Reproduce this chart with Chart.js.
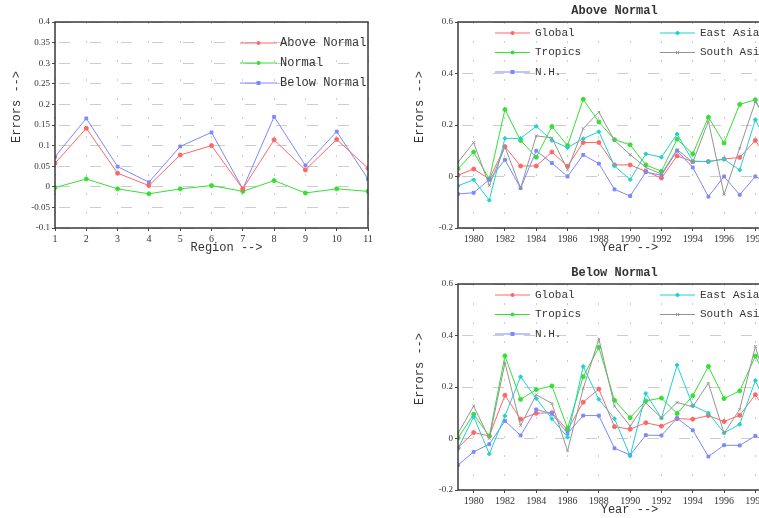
<!DOCTYPE html>
<html>
<head>
<meta charset="utf-8">
<script src="https://cdn.jsdelivr.net/npm/chart.js@4.4.0/dist/chart.umd.min.js"></script>
<style>
    html, body { margin: 0; padding: 0; background: #fff; overflow: hidden; width: 759px; height: 518px; }
    canvas { position: absolute; }
</style>
</head>
<body>
<canvas id="region-chart" width="380" height="260" style="left:0;top:0"></canvas>
<canvas id="above-chart" width="380" height="260" style="left:403px;top:0"></canvas>
<canvas id="below-chart" width="380" height="260" style="left:403px;top:262px"></canvas>
<script>
// Region chart data
const regions = [1, 2, 3, 4, 5, 6, 7, 8, 9, 10, 11];
const regionAbove = [0.057, 0.142, 0.033, 0.003, 0.077, 0.100, -0.005, 0.114, 0.041, 0.115, 0.045];
const regionNormal = [-0.002, 0.019, -0.005, -0.017, -0.005, 0.003, -0.011, 0.015, -0.015, -0.005, -0.011];
const regionBelow = [0.073, 0.166, 0.049, 0.011, 0.098, 0.132, -0.005, 0.170, 0.052, 0.134, 0.019];
const regionYTicks = [-0.1, -0.05, 0, 0.05, 0.1, 0.15, 0.2, 0.25, 0.3, 0.35, 0.4];

// Year charts data (1979 - 1999)
const years = [1979, 1980, 1981, 1982, 1983, 1984, 1985, 1986, 1987, 1988, 1989,
               1990, 1991, 1992, 1993, 1994, 1995, 1996, 1997, 1998, 1999];
const yearTicks = [1980, 1982, 1984, 1986, 1988, 1990, 1992, 1994, 1996, 1998];
const yearYTicks = [-0.2, 0, 0.2, 0.4, 0.6];

// Above Normal
const aboveGlobal = [0.005, 0.029, -0.010, 0.116, 0.041, 0.041, 0.095, 0.040, 0.132, 0.132, 0.045,
                     0.045, 0.020, -0.006, 0.080, 0.058, 0.058, 0.068, 0.074, 0.140, 0.050];
const aboveTropics = [0.030, 0.095, -0.010, 0.260, 0.140, 0.075, 0.194, 0.120, 0.300, 0.212, 0.143,
                      0.123, 0.045, 0.020, 0.145, 0.088, 0.230, 0.130, 0.280, 0.298, 0.170];
const aboveNH = [-0.068, -0.063, -0.012, 0.065, -0.045, 0.100, 0.052, 0.000, 0.084, 0.050, -0.050,
                 -0.076, 0.017, 0.005, 0.100, 0.035, -0.078, 0.000, -0.071, 0.000, -0.030];
const aboveEastAsia = [-0.036, -0.013, -0.092, 0.148, 0.148, 0.195, 0.140, 0.112, 0.147, 0.174, 0.041,
                       -0.012, 0.088, 0.075, 0.165, 0.060, 0.058, 0.067, 0.025, 0.220, 0.100];
const aboveSouthAsia = [0.055, 0.132, -0.035, 0.115, -0.045, 0.158, 0.150, 0.026, 0.186, 0.250, 0.140,
                        0.085, 0.035, 0.010, 0.105, 0.055, 0.215, -0.070, 0.110, 0.290, 0.200];

// Below Normal
const belowGlobal = [-0.035, 0.023, 0.010, 0.168, 0.075, 0.098, 0.100, 0.033, 0.141, 0.192, 0.046,
                     0.036, 0.061, 0.048, 0.077, 0.075, 0.089, 0.066, 0.090, 0.170, 0.080];
const belowTropics = [0.002, 0.094, 0.009, 0.321, 0.152, 0.190, 0.204, 0.040, 0.240, 0.354, 0.148,
                      0.081, 0.146, 0.157, 0.097, 0.166, 0.280, 0.155, 0.185, 0.320, 0.200];
const belowNH = [-0.103, -0.052, -0.022, 0.068, 0.012, 0.113, 0.096, 0.020, 0.089, 0.089, -0.038,
                 -0.064, 0.013, 0.012, 0.079, 0.032, -0.070, -0.026, -0.027, 0.010, -0.020];
const belowEastAsia = [-0.040, 0.085, -0.060, 0.088, 0.240, 0.155, 0.077, 0.005, 0.280, 0.152, 0.077,
                       -0.068, 0.175, 0.079, 0.285, 0.128, 0.099, 0.022, 0.055, 0.225, 0.090];
const belowSouthAsia = [0.020, 0.126, 0.000, 0.294, 0.050, 0.170, 0.136, -0.048, 0.194, 0.387, 0.126,
                        0.048, 0.138, 0.080, 0.140, 0.123, 0.215, 0.020, 0.113, 0.358, 0.150];

const RED = '#ff6666';
const GREEN = '#33e033';
const BLUE = '#7b88ff';
const CYAN = '#22d0d0';
const GRAY = '#949494';

const TICK_FONT = { family: 'Liberation Serif', size: 9 };
const TEXT_COLOR = '#333';

// Small marker drawing for the hand-made legend
function drawMarker(ctx, style, x, y, color) {
    ctx.fillStyle = color;
    ctx.strokeStyle = color;
    ctx.beginPath();
    if (style === 'rect') {
        ctx.rect(x - 2, y - 2, 4, 4);
        ctx.fill();
    } else if (style === 'rectRot') {
        ctx.moveTo(x, y - 2.5); ctx.lineTo(x + 2.5, y); ctx.lineTo(x, y + 2.5); ctx.lineTo(x - 2.5, y);
        ctx.closePath();
        ctx.fill();
    } else if (style === 'crossRot') {
        ctx.moveTo(x - 1.5, y - 1.5); ctx.lineTo(x + 1.5, y + 1.5);
        ctx.moveTo(x + 1.5, y - 1.5); ctx.lineTo(x - 1.5, y + 1.5);
        ctx.stroke();
    } else {
        ctx.arc(x, y, 2, 0, Math.PI * 2);
        ctx.fill();
    }
}

// Plugin: frame, title, axis titles and legend placed like the original plot
const decorPlugin = {
    id: 'decor',
    afterDraw(chart, args, opts) {
        const ctx = chart.ctx;
        const a = chart.chartArea;
        const cx = (a.left + a.right) / 2;
        const cy = (a.top + a.bottom) / 2;
        ctx.save();

        // plot frame
        ctx.setLineDash([]);
        ctx.strokeStyle = '#3a3a3a';
        ctx.lineWidth = 1.5;
        ctx.strokeRect(a.left, a.top, a.right - a.left, a.bottom - a.top);

        ctx.fillStyle = TEXT_COLOR;
        ctx.textAlign = 'center';
        ctx.textBaseline = 'middle';

        if (opts.title) {
            ctx.font = 'bold 12px "Liberation Mono"';
            ctx.fillText(opts.title, cx, 11);
        }

        // axis titles
        ctx.font = '12px "Liberation Mono"';
        ctx.fillText(opts.xTitle, cx + 15, 248);
        ctx.save();
        ctx.translate(17, cy - 18);
        ctx.rotate(-Math.PI / 2);
        ctx.fillText(opts.yTitle, 0, 0);
        ctx.restore();

        // legend
        const lay = opts.layout;
        ctx.font = lay.font;
        ctx.textAlign = 'left';
        opts.items.forEach(item => {
            const x1 = a.left + lay.cols[item.col];
            const x2 = x1 + lay.lineLen;
            const y = a.top + lay.rowStart + lay.rowStep * item.row;
            ctx.strokeStyle = item.color;
            ctx.lineWidth = 1;
            ctx.beginPath();
            ctx.moveTo(x1, y);
            ctx.lineTo(x2, y);
            ctx.stroke();
            drawMarker(ctx, item.style, (x1 + x2) / 2, y, item.color);
            ctx.fillStyle = TEXT_COLOR;
            ctx.fillText(item.label, x2 + lay.gap, y);
        });

        ctx.restore();
    }
};

// Function to build one line dataset
function makeSeries(label, xs, values, color, style) {
    return {
        label: label,
        data: values.map((v, i) => ({ x: xs[i], y: v })),
        borderColor: color,
        backgroundColor: color,
        pointBackgroundColor: color,
        pointBorderColor: color,
        pointStyle: style,
        pointRadius: style === 'crossRot' ? 1.8 : 2,
        pointBorderWidth: 1,
        borderWidth: 1,
        tension: 0
    };
}

// Function to build the shared chart options
function makeOptions(xMin, xMax, xTicks, yMin, yMax, yTicks, decor) {
    return {
        responsive: false,
        animation: false,
        layout: { padding: { top: 22, right: 12, left: 0, bottom: 0 } },
        scales: {
            x: {
                type: 'linear',
                min: xMin,
                max: xMax,
                afterBuildTicks: axis => { axis.ticks = xTicks.map(v => ({ value: v })); },
                afterFit: axis => { axis.height = 32; },
                ticks: {
                    callback: v => String(v),
                    font: { family: 'Liberation Serif', size: 10 },
                    color: TEXT_COLOR,
                    padding: 2,
                    maxRotation: 0,
                    autoSkip: false
                },
                grid: { color: '#cccccc', lineWidth: 1, tickLength: 3, tickColor: '#444', tickBorderDash: [] },
                border: { display: false, dash: [2, 17] }
            },
            y: {
                min: yMin,
                max: yMax,
                afterBuildTicks: axis => { axis.ticks = yTicks.map(v => ({ value: v })); },
                afterFit: axis => { axis.width = 55; },
                ticks: {
                    callback: v => String(v),
                    font: TICK_FONT,
                    color: TEXT_COLOR,
                    padding: 2
                },
                grid: { color: '#cccccc', lineWidth: 1, tickLength: 3, tickColor: '#444', tickBorderDash: [] },
                border: { display: false, dash: [11, 20], dashOffset: -4 }
            }
        },
        plugins: {
            legend: { display: false },
            tooltip: { enabled: false },
            decor: decor
        }
    };
}

const yearLegendLayout = {
    font: '11px "Liberation Mono"',
    cols: [37, 202],
    lineLen: 35,
    gap: 5,
    rowStart: 11,
    rowStep: 19.5
};

function yearItems() {
    return [
        { label: 'Global', color: RED, style: 'circle', col: 0, row: 0 },
        { label: 'Tropics', color: GREEN, style: 'circle', col: 0, row: 1 },
        { label: 'N.H.', color: BLUE, style: 'rect', col: 0, row: 2 },
        { label: 'East Asia', color: CYAN, style: 'rectRot', col: 1, row: 0 },
        { label: 'South Asia', color: GRAY, style: 'crossRot', col: 1, row: 1 }
    ];
}

// Region chart
new Chart(document.getElementById('region-chart'), {
    type: 'line',
    data: {
        datasets: [
            makeSeries('Above Normal', regions, regionAbove, RED, 'circle'),
            makeSeries('Normal', regions, regionNormal, GREEN, 'circle'),
            makeSeries('Below Normal', regions, regionBelow, BLUE, 'rect')
        ]
    },
    options: makeOptions(1, 11, regions, -0.1, 0.4, regionYTicks, {
        xTitle: 'Region -->',
        yTitle: 'Errors -->',
        layout: { font: '12px "Liberation Mono"', cols: [185], lineLen: 37, gap: 3, rowStart: 21, rowStep: 20 },
        items: [
            { label: 'Above Normal', color: RED, style: 'circle', col: 0, row: 0 },
            { label: 'Normal', color: GREEN, style: 'circle', col: 0, row: 1 },
            { label: 'Below Normal', color: BLUE, style: 'rect', col: 0, row: 2 }
        ]
    }),
    plugins: [decorPlugin]
});

// Above Normal chart
new Chart(document.getElementById('above-chart'), {
    type: 'line',
    data: {
        datasets: [
            makeSeries('South Asia', years, aboveSouthAsia, GRAY, 'crossRot'),
            makeSeries('East Asia', years, aboveEastAsia, CYAN, 'rectRot'),
            makeSeries('N.H.', years, aboveNH, BLUE, 'rect'),
            makeSeries('Tropics', years, aboveTropics, GREEN, 'circle'),
            makeSeries('Global', years, aboveGlobal, RED, 'circle')
        ]
    },
    options: makeOptions(1979, 1999, yearTicks, -0.2, 0.6, yearYTicks, {
        title: 'Above Normal',
        xTitle: 'Year -->',
        yTitle: 'Errors -->',
        layout: yearLegendLayout,
        items: yearItems()
    }),
    plugins: [decorPlugin]
});

// Below Normal chart
new Chart(document.getElementById('below-chart'), {
    type: 'line',
    data: {
        datasets: [
            makeSeries('South Asia', years, belowSouthAsia, GRAY, 'crossRot'),
            makeSeries('East Asia', years, belowEastAsia, CYAN, 'rectRot'),
            makeSeries('N.H.', years, belowNH, BLUE, 'rect'),
            makeSeries('Tropics', years, belowTropics, GREEN, 'circle'),
            makeSeries('Global', years, belowGlobal, RED, 'circle')
        ]
    },
    options: makeOptions(1979, 1999, yearTicks, -0.2, 0.6, yearYTicks, {
        title: 'Below Normal',
        xTitle: 'Year -->',
        yTitle: 'Errors -->',
        layout: yearLegendLayout,
        items: yearItems()
    }),
    plugins: [decorPlugin]
});
</script>
</body>
</html>
